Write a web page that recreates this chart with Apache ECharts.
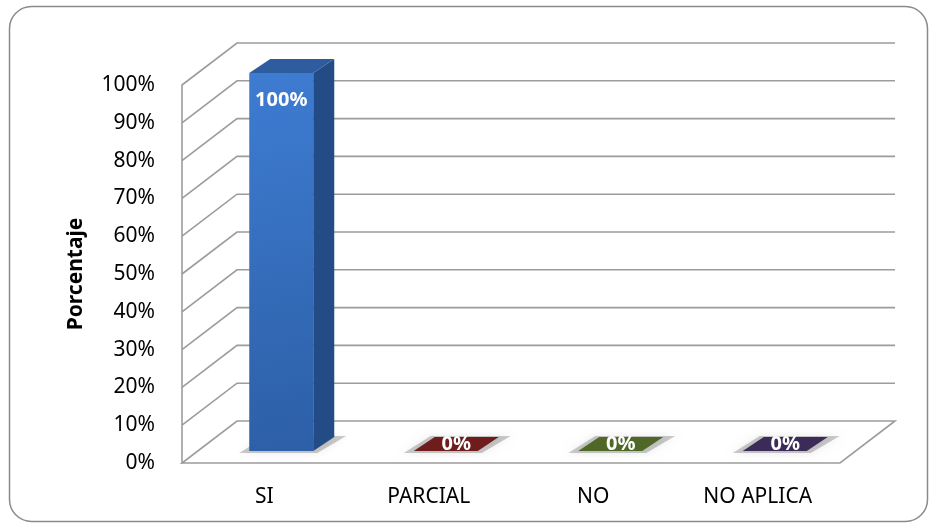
<!DOCTYPE html>
<html>
<head>
<meta charset="utf-8">
<script src="https://cdn.jsdelivr.net/npm/echarts@6/dist/echarts.min.js"></script>
<style>
  html, body { margin: 0; padding: 0; background: #fff; }
  #chart { width: 935px; height: 529px; }
</style>
</head>
<body>
<div id="chart"></div>
<script>
// datos
const categories = ["SI", "PARCIAL", "NO", "NO APLICA"];
const values = [100, 0, 0, 0];
const yTicks = [0, 10, 20, 30, 40, 50, 60, 70, 80, 90, 100];

// colores por barra: [frente arriba, frente abajo, lado, tapa]
const barColors = [
  ["#3e7cd2", "#2c5fa6", "#234c86", "#2d5d9e"],
  ["#7a2020", "#6b1a1a", "#561414", "#6e1c1c"],
  ["#56702c", "#4a6226", "#3b4f1e", "#4f6828"],
  ["#43305f", "#3a2a54", "#2e2144", "#3b2b58"],
];

const FONT = '"Noto Sans", "DejaVu Sans", sans-serif';
const gridColor = "#9c9c9c";
const wall = [55, -42]; // profundidad de las paredes
const barOff = [17, -12]; // desplazamiento de la barra dentro del piso
const barDepth = [21, -14];
const barW = 64;

let myChart = echarts.init(document.getElementById("chart"));

function renderFrame(params, api) {
  const v = api.value(1);
  const cs = params.coordSys;
  const x0 = cs.x;
  const x1 = cs.x + cs.width;
  const y = api.coord([0, v])[1];
  const lineStyle = { stroke: gridColor, lineWidth: 1.6, fill: null };
  const children = [];
  if (v === 0) {
    children.push({
      type: "polygon",
      shape: {
        points: [
          [x0, y],
          [x1, y],
          [x1 + wall[0], y + wall[1]],
          [x0 + wall[0], y + wall[1]],
        ],
      },
      style: { stroke: gridColor, lineWidth: 1.6, fill: "#fff" },
    });
  } else {
    children.push({
      type: "polyline",
      shape: {
        points: [
          [x0, y],
          [x0 + wall[0], y + wall[1]],
          [x1 + wall[0], y + wall[1]],
        ],
      },
      style: lineStyle,
    });
  }
  return { type: "group", children: children };
}

function renderBar(params, api) {
  const i = api.value(0);
  const val = api.value(1);
  const c = barColors[i];
  const base = api.coord([i, 0]);
  const top = api.coord([i, val]);
  const fx0 = base[0] - barW / 2 + barOff[0];
  const fx1 = fx0 + barW;
  const fyB = base[1] + barOff[1];
  const fyT = top[1] + barOff[1];
  const dx = barDepth[0];
  const dy = barDepth[1];
  const children = [];

  // sombra en el piso
  children.push({
    type: "polygon",
    shape: {
      points: [
        [fx0 - 10, fyB + 2],
        [fx1 + 4, fyB + 2],
        [fx1 + dx + 12, fyB + dy - 1],
        [fx0 + dx - 4, fyB + dy - 1],
      ],
    },
    style: {
      fill: "rgba(0,0,0,0.2)",
      shadowBlur: 9,
      shadowColor: "rgba(0,0,0,0.4)",
    },
  });

  if (fyB - fyT > 0.5) {
    children.push({
      type: "rect",
      shape: { x: fx0, y: fyT, width: barW, height: fyB - fyT },
      style: {
        fill: new echarts.graphic.LinearGradient(0, 0, 1, 1, [
          { offset: 0, color: c[0] },
          { offset: 1, color: c[1] },
        ]),
      },
    });
    children.push({
      type: "polygon",
      shape: {
        points: [
          [fx1, fyT],
          [fx1 + dx, fyT + dy],
          [fx1 + dx, fyB + dy],
          [fx1, fyB],
        ],
      },
      style: { fill: c[2] },
    });
  }
  children.push({
    type: "polygon",
    shape: {
      points: [
        [fx0, fyT],
        [fx1, fyT],
        [fx1 + dx, fyT + dy],
        [fx0 + dx, fyT + dy],
      ],
    },
    style: { fill: c[3] },
  });

  // etiqueta
  let lx, ly;
  if (val > 0) {
    lx = fx0 + barW / 2;
    ly = fyT + 27;
  } else {
    lx = fx0 + barW / 2 + dx / 2;
    ly = fyB + dy / 2;
  }
  children.push({
    type: "text",
    style: {
      text: val + "%",
      x: lx,
      y: ly,
      fill: "#fff",
      fontSize: 20,
      fontWeight: "bold",
      fontFamily: FONT,
      align: "center",
      verticalAlign: "middle",
    },
  });
  return { type: "group", children: children };
}

let option = {
  backgroundColor: "#fff",
  animation: false,
  graphic: [
    {
      type: "rect",
      shape: { x: 9.5, y: 6.5, width: 918, height: 515, r: 22 },
      style: { fill: null, stroke: "#8a8a8a", lineWidth: 1.5 },
      z: 0,
    },
  ],
  grid: {
    left: 182,
    right: 95,
    top: 85,
    bottom: 66,
  },
  xAxis: {
    type: "category",
    data: categories,
    axisLine: { show: false },
    axisTick: { show: false },
    axisLabel: {
      color: "#000",
      fontSize: 21,
      fontFamily: FONT,
      margin: 24,
    },
  },
  yAxis: {
    type: "value",
    min: 0,
    max: 100,
    interval: 10,
    name: "Porcentaje",
    nameLocation: "middle",
    nameRotate: 90,
    nameGap: 95,
    nameTextStyle: {
      color: "#000",
      fontSize: 21,
      fontWeight: "bold",
      fontFamily: FONT,
    },
    axisLine: { show: true, lineStyle: { color: gridColor, width: 1.6 } },
    axisTick: { show: false },
    splitLine: { show: false },
    axisLabel: {
      formatter: "{value}%",
      color: "#000",
      fontSize: 21,
      fontFamily: FONT,
      margin: 27,
    },
  },
  series: [
    {
      name: "marco",
      type: "custom",
      renderItem: renderFrame,
      clip: false,
      silent: true,
      z: 1,
      data: yTicks.map((v) => [0, v]),
    },
    {
      name: "Porcentaje",
      type: "custom",
      renderItem: renderBar,
      clip: false,
      z: 5,
      data: values.map((v, i) => [i, v]),
    },
  ],
};

option && myChart.setOption(option);
</script>
</body>
</html>
